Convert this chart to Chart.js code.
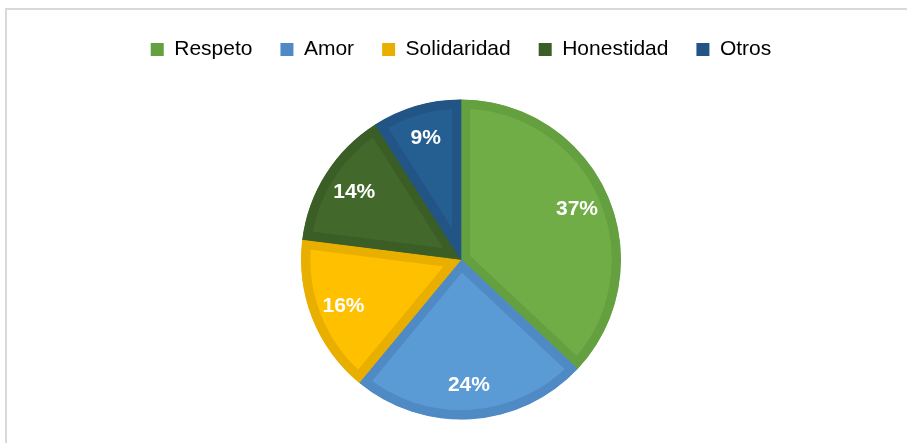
<!DOCTYPE html>
<html>
<head>
<meta charset="utf-8">
<script src="https://cdn.jsdelivr.net/npm/chart.js@4.4.1/dist/chart.umd.min.js"></script>
<style>
    html, body { margin: 0; padding: 0; background: #ffffff; overflow: hidden; }
    #frame {
        position: absolute; left: 5px; top: 8px; width: 1000px; height: 600px;
        border-top: 2px solid #d9d9d9; border-left: 2px solid #d9d9d9;
    }
    #valuesChart { position: absolute; left: 0; top: 0; }
</style>
</head>
<body>
<div id="frame"></div>
<canvas id="valuesChart" width="907" height="443"></canvas>
<script>
const labels = ['Respeto', 'Amor', 'Solidaridad', 'Honestidad', 'Otros'];
const percentages = [37, 24, 16, 14, 9];
const fillColors = ['#70ad47', '#5b9bd5', '#ffc000', '#43682b', '#255e91'];
const borderColors = ['#65a040', '#508ac4', '#e8ae00', '#3b5e26', '#225486'];

// draw the percentage labels inside each slice
const sliceLabels = {
    id: 'sliceLabels',
    afterDatasetsDraw(chart) {
        const ctx = chart.ctx;
        const meta = chart.getDatasetMeta(0);
        ctx.save();
        ctx.font = 'bold 21px "Liberation Sans", Arial, sans-serif';
        ctx.fillStyle = '#ffffff';
        ctx.textAlign = 'center';
        ctx.textBaseline = 'middle';
        meta.data.forEach((arc, i) => {
            const p = arc.getProps(['x', 'y', 'startAngle', 'endAngle', 'outerRadius'], true);
            const mid = (p.startAngle + p.endAngle) / 2;
            const r = p.outerRadius * 0.79;
            ctx.fillText(percentages[i] + '%', p.x + Math.cos(mid) * r, p.y + Math.sin(mid) * r);
        });
        ctx.restore();
    }
};

// a bit more room between legend and pie
const legendGap = {
    id: 'legendGap',
    beforeInit(chart) {
        const fit = chart.legend.fit;
        chart.legend.fit = function () {
            fit.call(this);
            this.height += 6;
        };
    }
};

new Chart(document.getElementById('valuesChart'), {
    type: 'pie',
    data: {
        labels: labels,
        datasets: [{
            data: percentages,
            backgroundColor: fillColors,
            borderColor: borderColors,
            borderWidth: 9,
            borderAlign: 'inner',
            borderJoinStyle: 'miter',
            hoverOffset: 0,
            offset: 0
        }]
    },
    options: {
        responsive: false,
        animation: false,
        radius: 160,
        layout: {
            padding: { left: 15, right: 0, top: 11, bottom: 0 }
        },
        plugins: {
            tooltip: { enabled: false },
            legend: {
                display: true,
                position: 'top',
                labels: {
                    boxWidth: 13,
                    boxHeight: 13,
                    padding: 28,
                    color: '#595959',
                    font: { family: '"Liberation Sans", Arial, sans-serif', size: 21 },
                    generateLabels(chart) {
                        return labels.map((text, i) => ({
                            text: text,
                            fillStyle: borderColors[i],
                            strokeStyle: borderColors[i],
                            lineWidth: 0,
                            hidden: false,
                            index: i
                        }));
                    }
                }
            }
        }
    },
    plugins: [sliceLabels, legendGap]
});
</script>
</body>
</html>
